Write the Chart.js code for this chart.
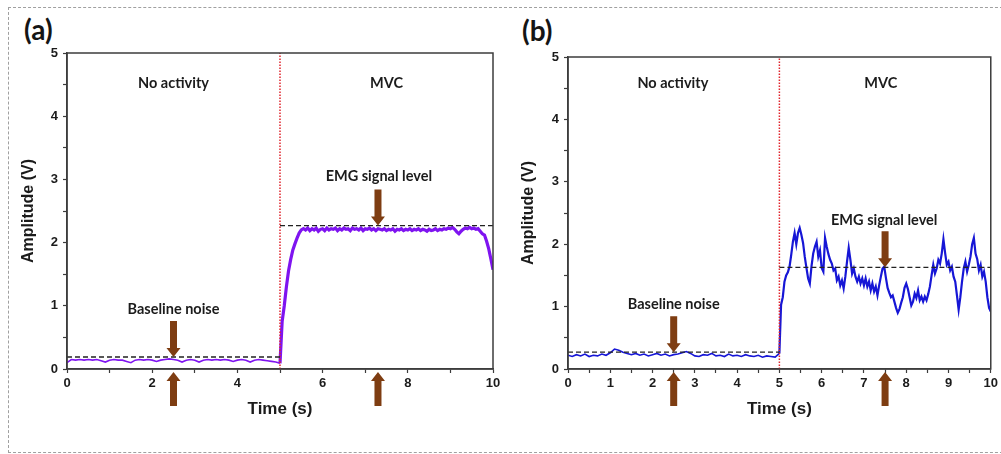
<!DOCTYPE html>
<html>
<head>
<meta charset="utf-8">
<script src="https://cdn.jsdelivr.net/npm/chart.js@4.4.1/dist/chart.umd.min.js"></script>
<style>
  html, body { margin: 0; padding: 0; background: #fff; }
  #wrap { position: relative; width: 1001px; height: 454px; overflow: hidden; }
  .frame { position: absolute; left: 8px; top: 7px; width: 1010px; height: 446px;
           border: 1px dashed #a0a0a0; box-sizing: border-box; }
  .tag { position: absolute; font: bold 28px Lato, sans-serif; color: #151515; line-height: 34px; }
  canvas { position: absolute; top: 0; }
</style>
</head>
<body>
<div id="wrap">
  <div class="frame"></div>
  <div class="tag" style="left:24px; top:12px">(a)</div>
  <div class="tag" style="left:522px; top:13px">(b)</div>
  <canvas id="chartA" width="515" height="454" style="left:0"></canvas>
  <canvas id="chartB" width="501" height="454" style="left:500px"></canvas>
</div>

<script>
// ---- data ----
var onsetTime = 5;           // start of the contraction (s)

// (a) rest every 0.1 s from 0 s, contraction every 0.05 s from 5 s
var restStepA = 0.1;
var restA = [
  0.10,0.15,0.14,0.15,0.14,0.15,0.14,0.15,0.13,0.11,
  0.14,0.15,0.14,0.14,0.12,0.10,0.14,0.15,0.14,0.15,
  0.14,0.12,0.14,0.15,0.16,0.15,0.14,0.11,0.14,0.15,
  0.14,0.11,0.14,0.15,0.14,0.15,0.14,0.15,0.14,0.12,
  0.14,0.15,0.14,0.11,0.14,0.15,0.14,0.13,0.12,0.11
];
var mvcStepA = 0.05;
var mvcA = [
  0.09,0.75,1.00,1.30,1.55,1.73,1.88,1.98,2.07,2.15,
  2.20,2.22,2.20,2.23,2.19,2.22,2.20,2.23,2.18,2.21,
  2.22,2.19,2.23,2.20,2.22,2.21,2.23,2.19,2.22,2.20,
  2.23,2.21,2.22,2.19,2.23,2.21,2.22,2.20,2.23,2.19,
  2.22,2.21,2.23,2.20,2.22,2.19,2.22,2.21,2.20,2.22,
  2.19,2.21,2.20,2.22,2.18,2.21,2.20,2.22,2.19,2.21,
  2.20,2.22,2.19,2.21,2.20,2.22,2.19,2.21,2.20,2.18,
  2.21,2.19,2.20,2.22,2.19,2.21,2.20,2.22,2.21,2.23,
  2.22,2.24,2.21,2.17,2.14,2.18,2.21,2.23,2.22,2.24,
  2.22,2.23,2.21,2.22,2.18,2.14,2.12,2.02,1.90,1.74,
  1.57
];
var noiseLevelA = 0.19;
var signalLevelA = 2.27;

// (b) rest every 0.1 s from 0 s, contraction every 0.04 s from 5 s
var restStepB = 0.1;
var restB = [
  0.22,0.20,0.23,0.21,0.24,0.20,0.22,0.21,0.24,0.22,
  0.26,0.32,0.30,0.27,0.25,0.23,0.25,0.22,0.24,0.21,
  0.23,0.25,0.22,0.24,0.21,0.23,0.24,0.26,0.28,0.25,
  0.21,0.20,0.23,0.22,0.25,0.21,0.22,0.20,0.24,0.21,
  0.22,0.20,0.23,0.21,0.20,0.22,0.19,0.21,0.20,0.19
];
var mvcStepB = 0.04;
var mvcB = [
  0.25,1.03,1.15,1.40,1.50,1.55,1.64,1.83,2.04,2.18,
  2.00,2.18,2.26,2.15,2.02,1.80,1.62,1.45,1.37,1.65,
  1.85,1.96,2.04,1.80,1.90,1.62,1.56,2.10,1.96,1.84,
  1.75,1.69,1.58,1.61,1.42,1.48,1.34,1.42,1.29,1.48,
  1.72,1.94,1.75,1.53,1.61,1.48,1.40,1.48,1.37,1.45,
  1.34,1.45,1.32,1.40,1.26,1.37,1.24,1.32,1.18,1.34,
  1.48,1.61,1.64,1.46,1.30,1.22,1.15,1.18,1.08,0.98,
  0.90,0.96,1.06,1.15,1.30,1.37,1.28,1.15,1.02,1.08,
  1.21,1.14,1.26,1.10,1.16,1.08,1.16,1.10,1.20,1.32,
  1.50,1.67,1.53,1.61,1.75,1.69,1.85,2.08,1.86,1.67,
  1.72,1.58,1.64,1.48,1.40,1.18,0.95,1.15,1.40,1.61,
  1.72,1.56,1.67,1.80,2.00,2.10,1.85,1.76,1.58,1.67,
  1.48,1.56,1.40,1.15,0.98,0.92
];
var noiseLevelB = 0.27;
var signalLevelB = 1.63;

// labelled ticks
var timeTicksA = [0, 2, 4, 6, 8, 10];
var timeTicksB = [0, 1, 2, 3, 4, 5, 6, 7, 8, 9, 10];
var ampTicks = [0, 1, 2, 3, 4, 5];

// ---- helpers ----
function trace(rest, restStep, mvc, mvcStep){
  var pts = rest.map(function(v, i){ return { x: i * restStep, y: v }; });
  mvc.forEach(function(v, i){ pts.push({ x: onsetTime + i * mvcStep, y: v }); });
  return pts;
}

var INK = '#1b1b1b', AXIS = '#3c3c3c', BROWN = '#7e3d12';
var SANS = 'Liberation Sans, Arial, sans-serif';

// frame, annotations and arrows
var panelDecor = {
  id: 'panelDecor',
  afterDatasetsDraw: function(chart, args, opts){
    var ctx = chart.ctx, area = chart.chartArea,
        xs = chart.scales.x, ys = chart.scales.y;
    ctx.save();

    ctx.strokeStyle = AXIS;
    ctx.lineWidth = 1.5;
    ctx.strokeRect(area.left, area.top, area.right - area.left, area.bottom - area.top);

    ctx.fillStyle = INK;
    ctx.font = 'bold 14.5px Lato, sans-serif';
    ctx.textAlign = 'center';
    ctx.textBaseline = 'middle';
    opts.notes.forEach(function(n){
      ctx.fillText(n.text, xs.getPixelForValue(n.x), ys.getPixelForValue(n.y));
    });

    ctx.fillStyle = BROWN;
    opts.arrows.forEach(function(a){
      var x = xs.getPixelForValue(a.x),
          tip = ys.getPixelForValue(a.level);
      arrow(ctx, x, tip, tip - 36);                      // pointing down onto the level
      arrow(ctx, x, area.bottom + 3, area.bottom + 37);  // pointing up under the axis
    });
    ctx.restore();
  }
};

function arrow(ctx, x, tipY, tailY){
  var dir = tailY > tipY ? 1 : -1, head = 9, sw = 3.5, hw = 7;
  ctx.beginPath();
  ctx.moveTo(x, tipY);
  ctx.lineTo(x + hw, tipY + dir * head);
  ctx.lineTo(x + sw, tipY + dir * head);
  ctx.lineTo(x + sw, tailY);
  ctx.lineTo(x - sw, tailY);
  ctx.lineTo(x - sw, tipY + dir * head);
  ctx.lineTo(x - hw, tipY + dir * head);
  ctx.closePath();
  ctx.fill();
}

function tickFont(){ return { family: SANS, weight: 'bold', size: 13 }; }

function makeScales(timeTicks, timeStep, yWidth){
  return {
    x: {
      type: 'linear', min: 0, max: 10,
      ticks: {
        stepSize: timeStep, autoSkip: false, maxRotation: 0, padding: 3, color: INK, font: tickFont(),
        callback: function(v){ return timeTicks.indexOf(v) >= 0 ? String(v) : ''; }
      },
      grid: { drawOnChartArea: false, drawTicks: true, tickLength: 4, tickColor: AXIS, tickWidth: 1.2 },
      border: { color: AXIS, width: 1.5 },
      title: { display: true, text: 'Time (s)', color: INK,
               font: { family: SANS, weight: 'bold', size: 17 },
               padding: { top: 0, bottom: 34 } },
      afterFit: function(s){ s.height = 85; }
    },
    y: {
      min: 0, max: 5,
      ticks: {
        stepSize: 0.5, autoSkip: false, padding: 5, color: INK, font: tickFont(),
        callback: function(v){ return ampTicks.indexOf(v) >= 0 ? String(v) : ''; }
      },
      grid: { drawOnChartArea: false, drawTicks: true, tickLength: 4, tickColor: AXIS, tickWidth: 1.2 },
      border: { color: AXIS, width: 1.5 },
      title: { display: true, text: 'Amplitude (V)', color: INK,
               font: { family: SANS, weight: 'bold', size: 16 },
               padding: { top: 19, bottom: 0 } },
      afterFit: function(s){ s.width = yWidth; }
    }
  };
}

function makeChart(id, cfg){
  var levelStyle = { borderColor: '#222', borderWidth: 1.3, borderDash: [5, 3], pointRadius: 0, fill: false };
  return new Chart(document.getElementById(id), {
    type: 'line',
    data: {
      datasets: [
        Object.assign({ data: [{ x: 0, y: cfg.noise }, { x: onsetTime, y: cfg.noise }] }, levelStyle),
        Object.assign({ data: [{ x: onsetTime, y: cfg.signal }, { x: 10, y: cfg.signal }] }, levelStyle),
        { data: [{ x: onsetTime, y: 0 }, { x: onsetTime, y: 5 }],
          borderColor: '#e0242c', borderWidth: 1.5, borderDash: [1.5, 1.5], pointRadius: 0 },
        { data: cfg.points, borderColor: cfg.color, pointRadius: 0, tension: 0,
          borderWidth: 1.8,
          segment: { borderWidth: function(c){ return c.p0.parsed.x >= onsetTime ? cfg.mvcWidth : 1.6; } } }
      ]
    },
    options: {
      responsive: false, animation: false, devicePixelRatio: 1,
      layout: { padding: cfg.padding },
      plugins: {
        legend: { display: false }, tooltip: { enabled: false },
        panelDecor: { notes: cfg.notes, arrows: cfg.arrows }
      },
      scales: makeScales(cfg.timeTicks, cfg.timeStep, cfg.yWidth)
    },
    plugins: [panelDecor]
  });
}

makeChart('chartA', {
  points: trace(restA, restStepA, mvcA, mvcStepA),
  color: '#7f14f0', mvcWidth: 3.2,
  noise: noiseLevelA, signal: signalLevelA,
  timeTicks: timeTicksA, timeStep: 1, yWidth: 67,
  padding: { left: 0, right: 22, top: 53, bottom: 0 },
  notes: [
    { text: 'No activity', x: 2.5, y: 4.52 },
    { text: 'MVC', x: 7.5, y: 4.52 },
    { text: 'EMG signal level', x: 7.32, y: 3.05 },
    { text: 'Baseline noise', x: 2.5, y: 0.95 }
  ],
  arrows: [ { x: 2.5, level: noiseLevelA }, { x: 7.3, level: signalLevelA } ]
});

makeChart('chartB', {
  points: trace(restB, restStepB, mvcB, mvcStepB),
  color: '#1616d6', mvcWidth: 2.2,
  noise: noiseLevelB, signal: signalLevelB,
  timeTicks: timeTicksB, timeStep: 0.5, yWidth: 68,
  padding: { left: 0, right: 9, top: 57, bottom: 0 },
  notes: [
    { text: 'No activity', x: 2.48, y: 4.58 },
    { text: 'MVC', x: 7.4, y: 4.58 },
    { text: 'EMG signal level', x: 7.48, y: 2.39 },
    { text: 'Baseline noise', x: 2.5, y: 1.04 }
  ],
  arrows: [ { x: 2.5, level: noiseLevelB }, { x: 7.5, level: signalLevelB } ]
});
</script>
</body>
</html>
